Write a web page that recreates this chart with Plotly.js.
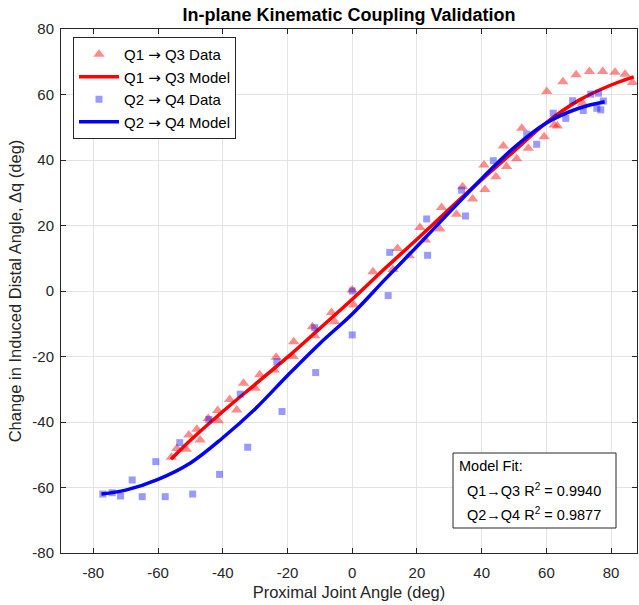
<!DOCTYPE html>
<html>
<head>
<meta charset="utf-8">
<script src="https://cdn.plot.ly/plotly-3.0.1.min.js"></script>
<style>html,body{margin:0;padding:0;background:#fff;}#chart{width:639px;height:605px;}</style>
</head>
<body>
<div id="chart"></div>
<script>
// Q1 -> Q3 measured data
const q13DataX = [-55.9,-54.2,-51.3,-50.5,-48.0,-47.0,-44.5,-41.4,-41.6,-37.9,-35.7,-33.6,-30.0,-28.6,-24.1,-23.5,-18.1,-18.3,-12.3,-11.6,-6.4,-5.4,0.0,0.5,6.4,12.6,14.0,17.6,20.9,22.6,27.1,27.6,32.2,34.1,37.2,40.7,41.0,44.4,46.7,47.7,50.8,52.4,54.4,59.3,60.1,62.4,63.4,65.1,69.2,71.2,73.3,77.4,81.2,84.3,86.6];
const q13DataY = [-50.8,-48.1,-48.3,-44.0,-42.2,-45.5,-38.9,-39.6,-36.5,-33.1,-36.3,-28.2,-29.7,-25.6,-24.1,-20.2,-15.5,-20.0,-10.9,-13.7,-6.6,-9.4,0.3,-4.3,5.9,6.6,13.0,10.8,19.4,15.6,18.9,25.5,23.4,31.8,28.1,38.5,31.0,34.9,44.3,38.0,40.4,49.7,43.6,47.1,60.9,50.7,50.4,63.9,66.0,57.3,67.0,67.0,66.8,66.2,63.7];
// Q1 -> Q3 model curve
const q13ModelX = [-56,-50,-40,-30,-20,-10,0,10,20,30,40,50,60,70,80,87];
const q13ModelY = [-51.4,-45.6,-36.8,-28.5,-20.2,-11.4,-2.5,6.8,15.8,25.0,34.0,42.7,51.4,58.2,62.9,65.4];
// Q2 -> Q4 measured data
const q24DataX = [-77.1,-74.2,-71.6,-68.0,-64.9,-60.7,-57.8,-53.3,-49.3,-44.3,-41.0,-34.6,-32.3,-23.3,-21.7,-11.6,-11.3,0.0,0.0,11.1,11.6,23.0,23.3,33.8,35.0,43.6,53.9,57.0,62.1,66.0,68.1,71.4,73.7,76.1,75.6,76.8,77.6];
const q24DataY = [-62.0,-61.6,-62.6,-57.7,-62.8,-52.1,-62.8,-46.3,-62.0,-39.2,-56.0,-31.5,-47.7,-21.6,-36.8,-11.2,-24.9,0.0,-13.4,-1.4,11.8,22.0,10.9,30.8,22.9,39.8,47.9,44.8,54.3,52.7,58.1,55.1,60.1,60.4,55.8,55.3,58.0];
// Q2 -> Q4 model curve
const q24ModelX = [-77.5,-70,-60,-50,-40,-30,-20,-10,0,10,20,30,40,50,60,70,78];
const q24ModelY = [-62.0,-60.8,-57.5,-52.5,-44.8,-36.0,-25.8,-16.0,-7.0,3.4,13.6,24.0,34.3,43.8,51.3,55.8,57.8];
const xTicks = [-80,-60,-40,-20,0,20,40,60,80];
const yTicks = [-80,-60,-40,-20,0,20,40,60,80];
const fitLines = ['Model Fit:', 'Q1\u2192Q3 R<sup>2</sup> = 0.9940', 'Q2\u2192Q4 R<sup>2</sup> = 0.9877'];
const ARROW = '<span style="font-family:\'DejaVu Sans\'">\u2192</span>';
const seriesNames = ['Q1 ' + ARROW + ' Q3 Data', 'Q1 ' + ARROW + ' Q3 Model', 'Q2 ' + ARROW + ' Q4 Data', 'Q2 ' + ARROW + ' Q4 Model'];

const FONT = 'Arial, "Liberation Sans", sans-serif';
const traces = [
  {x:q13DataX, y:q13DataY, mode:'markers', type:'scatter', name:seriesNames[0],
   marker:{symbol:'triangle-up', size:10, color:'rgba(255,0,0,0.45)', line:{width:0}}},
  {x:q13ModelX, y:q13ModelY, mode:'lines', type:'scatter', name:seriesNames[1],
   line:{color:'#ff0000', width:3.5, shape:'spline'}},
  {x:q24DataX, y:q24DataY, mode:'markers', type:'scatter', name:seriesNames[2],
   marker:{symbol:'square', size:7, color:'rgba(0,0,255,0.4)', line:{width:0}}},
  {x:q24ModelX, y:q24ModelY, mode:'lines', type:'scatter', name:seriesNames[3],
   line:{color:'#0000ff', width:3.5, shape:'spline'}}
];

const W = 639, H = 605, L = 61, R = 2, T = 29, B = 52;
const pw = W - L - R, ph = H - T - B;
const px = v => (v - L) / pw;
const py = v => (H - B - v) / ph;

const axisCommon = {
  showline:true, linecolor:'#262626', linewidth:1, mirror:'ticks',
  ticks:'inside', ticklen:5, tickcolor:'#262626',
  showgrid:true, gridcolor:'#e3e3e3', gridwidth:1, zeroline:false,
  tickfont:{family:FONT, size:15, color:'#262626'}
};

const layout = {
  width:W, height:H,
  margin:{l:L, r:R, t:T, b:B},
  paper_bgcolor:'#ffffff', plot_bgcolor:'#ffffff',
  font:{family:FONT, color:'#262626'},
  title:{text:'<b>In-plane Kinematic Coupling Validation</b>', font:{family:FONT, size:18, color:'#000'},
         x:0.5, xref:'paper', xanchor:'center', y:1-15/H, yref:'container', yanchor:'middle'},
  xaxis:Object.assign({}, axisCommon, {range:[-90,88], tickvals:xTicks, ticktext:xTicks.map(String),
         ticklabelstandoff:6,
         title:{text:'Proximal Joint Angle (deg)', font:{family:FONT, size:16.5, color:'#262626'}, standoff:6}}),
  yaxis:Object.assign({}, axisCommon, {range:[-80,80], tickvals:yTicks, ticktext:yTicks.map(String),
         ticklabelstandoff:3,
         title:{text:'Change in Induced Distal Angle, \u0394q (deg)', font:{family:FONT, size:16.5, color:'#262626'}, standoff:6}}),
  showlegend:true,
  legend:{x:px(73), y:py(37), xanchor:'left', yanchor:'top', bgcolor:'#ffffff',
          bordercolor:'#262626', borderwidth:1, font:{family:FONT, size:15, color:'#000'},
          tracegroupgap:0, itemwidth:40},
  shapes:[{type:'rect', xref:'paper', yref:'paper', x0:px(453), x1:px(616), y0:py(528), y1:py(453),
           line:{color:'#262626', width:1}, fillcolor:'#ffffff', layer:'above'}],
  annotations:[
    {text:fitLines[0], xref:'paper', yref:'paper', x:px(457), y:py(466), xanchor:'left', yanchor:'middle', showarrow:false, font:{family:FONT, size:14.5, color:'#000'}},
    {text:fitLines[1], xref:'paper', yref:'paper', x:px(465), y:py(490), xanchor:'left', yanchor:'middle', showarrow:false, font:{family:FONT, size:14.5, color:'#000'}},
    {text:fitLines[2], xref:'paper', yref:'paper', x:px(465), y:py(514), xanchor:'left', yanchor:'middle', showarrow:false, font:{family:FONT, size:14.5, color:'#000'}}
  ]
};

Plotly.newPlot('chart', traces, layout, {staticPlot:true, displayModeBar:false});
</script>
</body>
</html>
